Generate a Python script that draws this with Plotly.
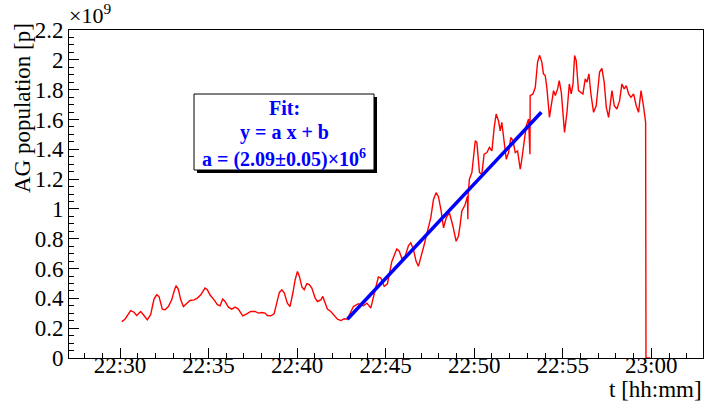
import pandas as pd
import plotly.graph_objects as go

# ---- data (minutes after 22:00, population in units of 1e9) ----
t_min = [30.10, 30.28, 30.60, 30.79, 30.94, 31.17, 31.32, 31.54, 31.73, 31.92, 32.07, 32.20,
         32.39, 32.54, 32.73, 32.92, 33.05, 33.16, 33.29, 33.43, 33.58, 33.77, 33.95, 34.18,
         34.37, 34.56, 34.80, 34.93, 35.08, 35.31, 35.50, 35.65, 35.80, 35.93, 36.12, 36.31,
         36.50, 36.68, 36.93, 37.16, 37.38, 37.63, 37.81, 38.01, 38.19, 38.32, 38.51, 38.70,
         38.85, 39.00, 39.14, 39.28, 39.45, 39.60, 39.76, 39.89, 40.02, 40.13, 40.27, 40.40,
         40.55, 40.69, 40.83, 41.02, 41.15, 41.34, 41.45, 41.58, 41.71, 41.90, 42.09, 42.28,
         42.47, 42.66, 42.84, 43.18, 43.46, 43.75, 43.94, 44.16, 44.41, 44.59, 44.73, 44.92,
         45.10, 45.35, 45.63, 45.77, 45.92, 46.10, 46.29, 46.42, 46.57, 46.72, 46.85, 47.01,
         47.18, 47.36, 47.55, 47.70, 47.85, 47.98, 48.12, 48.27, 48.42, 48.60, 48.80, 48.98,
         49.11, 49.21, 49.30, 49.49, 49.62, 49.64, 49.66, 49.73, 49.87, 50.06, 50.15, 50.30,
         50.43, 50.56, 50.72, 50.86, 51.00, 51.13, 51.24, 51.37, 51.47, 51.56, 51.69, 51.81,
         51.94, 52.07, 52.19, 52.32, 52.45, 52.60, 52.69, 52.82, 52.94, 53.07, 53.15, 53.16,
         53.32, 53.45, 53.58, 53.69, 53.82, 53.91, 54.01, 54.11, 54.25, 54.48, 54.58, 54.71,
         54.80, 54.92, 55.01, 55.10, 55.24, 55.37, 55.48, 55.58, 55.67, 55.76, 55.89, 56.03,
         56.14, 56.27, 56.37, 56.48, 56.59, 56.74, 56.89, 57.08, 57.21, 57.34, 57.46, 57.59,
         57.78, 57.91, 58.06, 58.21, 58.34, 58.47, 58.59, 58.72, 58.85, 59.00, 59.15, 59.28,
         59.42, 59.57, 59.68, 59.70, 59.94]
pop_e9 = [0.244, 0.260, 0.318, 0.307, 0.285, 0.312, 0.290, 0.256, 0.290, 0.395, 0.424, 0.413,
          0.328, 0.323, 0.345, 0.390, 0.446, 0.485, 0.462, 0.390, 0.345, 0.368, 0.386, 0.390,
          0.402, 0.424, 0.469, 0.458, 0.424, 0.390, 0.357, 0.350, 0.395, 0.379, 0.341, 0.328,
          0.341, 0.328, 0.283, 0.296, 0.312, 0.312, 0.301, 0.305, 0.301, 0.285, 0.283, 0.296,
          0.368, 0.440, 0.458, 0.436, 0.368, 0.345, 0.436, 0.525, 0.581, 0.547, 0.476, 0.458,
          0.498, 0.492, 0.469, 0.402, 0.379, 0.390, 0.413, 0.368, 0.328, 0.312, 0.290, 0.261,
          0.251, 0.263, 0.261, 0.345, 0.364, 0.350, 0.368, 0.335, 0.458, 0.543, 0.537, 0.480,
          0.498, 0.648, 0.732, 0.716, 0.665, 0.682, 0.754, 0.772, 0.727, 0.648, 0.615, 0.682,
          0.761, 0.851, 0.941, 1.064, 1.109, 1.082, 0.997, 0.873, 0.941, 0.974, 0.884, 0.783,
          0.817, 0.896, 0.985, 1.030, 1.086, 0.930, 1.100, 1.199, 1.244, 1.457, 1.446, 1.244,
          1.232, 1.367, 1.378, 1.412, 1.389, 1.547, 1.636, 1.591, 1.524, 1.580, 1.468, 1.333,
          1.378, 1.480, 1.457, 1.378, 1.389, 1.266, 1.333, 1.468, 1.557, 1.603, 1.367, 1.760,
          1.771, 1.816, 1.985, 2.030, 1.985, 1.906, 1.895, 1.805, 1.614, 1.793, 1.760, 1.805,
          1.861, 1.782, 1.625, 1.513, 1.648, 1.838, 1.771, 1.838, 2.029, 1.995, 1.793, 1.782,
          1.771, 1.872, 1.850, 1.906, 1.771, 1.648, 1.692, 1.918, 1.943, 1.850, 1.681, 1.614,
          1.793, 1.692, 1.670, 1.726, 1.838, 1.805, 1.827, 1.771, 1.748, 1.771, 1.692, 1.648,
          1.793, 1.681, 1.580, 0.000, 0.000]

fit_t_min = [42.84, 53.79]
fit_pop_e9 = [0.26, 1.648]

fit_lines = ["Fit:", "y = a x + b", "a = (2.09\u00b10.05)\u00d710<sup>6</sup>"]

base = pd.Timestamp("2000-01-01 22:00:00")
tx = base + pd.to_timedelta(t_min, unit="min")
fx = base + pd.to_timedelta(fit_t_min, unit="min")

# ---- layout geometry (pixels) ----
W, H = 705, 401
L, R, T, B = 69, 2, 30, 43
pw, ph = W - L - R, H - T - B


def px(x):
    return (x - L) / pw


def py(y):
    return (H - B - y) / ph


FONT = "'Liberation Serif', 'Times New Roman', Times, 'DejaVu Serif', serif"

fig = go.Figure()
fig.add_trace(go.Scatter(x=tx, y=pop_e9, mode="lines",
                         line=dict(color="#ff0000", width=1.4), showlegend=False))
fig.add_trace(go.Scatter(x=fx, y=fit_pop_e9, mode="lines",
                         line=dict(color="#0000ff", width=3.5), showlegend=False))

x0 = base + pd.Timedelta(minutes=27.12)
x1 = base + pd.Timedelta(minutes=62.92)

fig.update_layout(
    width=W, height=H,
    margin=dict(l=L, r=R, t=T, b=B, pad=0),
    paper_bgcolor="white", plot_bgcolor="white",
    font=dict(family=FONT, size=23, color="black"),
    xaxis=dict(type="date", range=[x0, x1], tick0=base + pd.Timedelta(minutes=30),
               dtick=300000, tickformat="%H:%M", ticks="inside", ticklen=10,
               tickcolor="black", tickwidth=1, showline=True, linecolor="black",
               linewidth=1, mirror=True, showgrid=False, zeroline=False,
               ticklabelstandoff=-14,
               tickfont=dict(family=FONT, size=23, color="black"),
               minor=dict(dtick=60000, ticks="inside", ticklen=5, tickcolor="black",
                          showgrid=False)),
    yaxis=dict(range=[0, 2.2], dtick=0.2, tick0=0, ticks="inside", ticklen=10,
               tickcolor="black", tickwidth=1, showline=True, linecolor="black",
               linewidth=1, mirror=True, showgrid=False, zeroline=False,
               tickfont=dict(family=FONT, size=23, color="black"),
               minor=dict(dtick=0.05, ticks="inside", ticklen=5, tickcolor="black",
                          showgrid=False)),
)

shapes = [
    dict(type="rect", xref="paper", yref="paper", x0=px(197), x1=px(377), y0=py(173), y1=py(97),
         fillcolor="black", line=dict(width=0), layer="above"),
    dict(type="rect", xref="paper", yref="paper", x0=px(194), x1=px(374), y0=py(170), y1=py(94),
         fillcolor="white", line=dict(color="black", width=1), layer="above"),
]
fig.update_layout(shapes=shapes)

ann = []
for txt, yy in zip(fit_lines, [108, 132, 158]):
    ann.append(dict(text="<b>" + txt + "</b>", x=px(284), y=py(yy), xref="paper", yref="paper",
                    xanchor="center", yanchor="middle", showarrow=False,
                    font=dict(family=FONT, size=20, color="#0000ff")))
ann.append(dict(text="\u00d710<sup>9</sup>", x=px(67), y=py(30), xref="paper", yref="paper",
                xanchor="left", yanchor="bottom", showarrow=False,
                font=dict(family=FONT, size=22, color="black")))
ann.append(dict(text="AG population [p]", x=px(22), y=py(108), xref="paper", yref="paper",
                xanchor="center", yanchor="middle", textangle=-90, showarrow=False,
                font=dict(family=FONT, size=23, color="black")))
ann.append(dict(text="t [hh:mm]", x=px(704), y=py(389), xref="paper", yref="paper",
                xanchor="right", yanchor="middle", showarrow=False,
                font=dict(family=FONT, size=23, color="black")))
fig.update_layout(annotations=ann)

fig.write_html("out.html")
